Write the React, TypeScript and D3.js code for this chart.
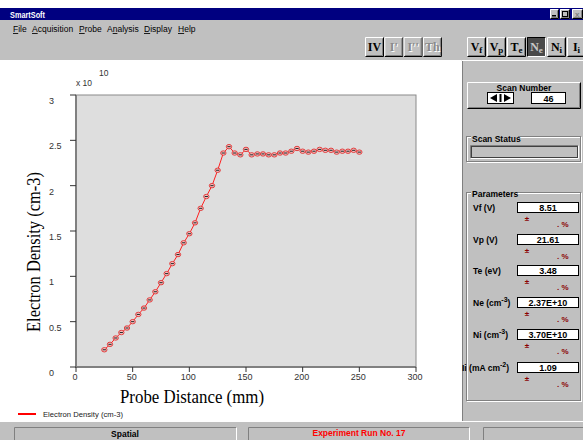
import React from 'react';
import * as d3 from 'd3';

// ---- data ----
const distanceMm = [25, 30, 35, 40, 45, 50, 55, 60, 65, 70, 75, 80, 85, 90, 95, 100, 105, 110, 115, 120, 125, 130, 135, 140, 145, 150, 155, 160, 165, 170, 175, 180, 185, 190, 195, 200, 205, 210, 215, 220, 225, 230, 235, 240, 245, 250];
const densityE10 = [0.19, 0.25, 0.32, 0.38, 0.43, 0.50, 0.58, 0.65, 0.74, 0.83, 0.93, 1.03, 1.14, 1.24, 1.37, 1.47, 1.59, 1.75, 1.88, 2.00, 2.17, 2.36, 2.43, 2.36, 2.34, 2.40, 2.34, 2.35, 2.35, 2.34, 2.34, 2.36, 2.36, 2.38, 2.41, 2.38, 2.37, 2.38, 2.40, 2.39, 2.39, 2.37, 2.38, 2.38, 2.39, 2.37];
const yTicks = [0, 0.5, 1, 1.5, 2, 2.5, 3];
const xTicks = [0, 50, 100, 150, 200, 250, 300];
const menuItems = ['File', 'Acquisition', 'Probe', 'Analysis', 'Display', 'Help'];
const menuUnderline = [0, 0, 0, 1, 0, 0];
const menuX = [13, 32, 79, 107, 144, 178];
const paramNames = ['Vf (V)', 'Vp (V)', 'Te (eV)', 'Ne (cm', 'Ni (cm', 'Ii (mA cm'];
const paramSup = ['', '', '', '-3', '-3', '-2'];
const paramValues = ['8.51', '21.61', '3.48', '2.37E+10', '3.70E+10', '1.09'];
const scanNumber = '46';
const leftButtons = [
  { main: 'IV', sub: '', enabled: true },
  { main: "I'", sub: '', enabled: false },
  { main: "I''", sub: '', enabled: false },
  { main: 'Th', sub: '', enabled: false },
];
const rightButtons = [
  { main: 'V', sub: 'f', pressed: false },
  { main: 'V', sub: 'p', pressed: false },
  { main: 'T', sub: 'e', pressed: false },
  { main: 'N', sub: 'e', pressed: true },
  { main: 'N', sub: 'i', pressed: false },
  { main: 'I', sub: 'i', pressed: false },
];

const UI = '"Liberation Sans", Arial, sans-serif';
const SERIF = '"Liberation Serif", "Times New Roman", serif';
const GREY = '#c0c0c0';

const Raised = ({ x, y, w, h, fill = GREY }: any) => (
  <g>
    <rect x={x} y={y} width={w} height={h} fill={fill} />
    <path d={`M${x + 0.5},${y + h - 0.5}V${y + 0.5}H${x + w - 0.5}`} stroke="#ffffff" fill="none" />
    <path d={`M${x + 0.5},${y + h - 0.5}H${x + w - 0.5}V${y + 0.5}`} stroke="#000000" fill="none" />
    <path d={`M${x + 1.5},${y + h - 1.5}H${x + w - 1.5}V${y + 1.5}`} stroke="#808080" fill="none" />
  </g>
);

const Sunken = ({ x, y, w, h, fill = GREY }: any) => (
  <g>
    <rect x={x} y={y} width={w} height={h} fill={fill} />
    <path d={`M${x + 0.5},${y + h - 0.5}V${y + 0.5}H${x + w - 0.5}`} stroke="#808080" fill="none" />
    <path d={`M${x + 0.5},${y + h - 0.5}H${x + w - 0.5}V${y + 0.5}`} stroke="#ffffff" fill="none" />
  </g>
);

const Etched = ({ x, y, w, h }: any) => (
  <g fill="none">
    <rect x={x + 1.5} y={y + 1.5} width={w - 1} height={h - 1} stroke="#ffffff" />
    <rect x={x + 0.5} y={y + 0.5} width={w - 1} height={h - 1} stroke="#808080" />
  </g>
);

const Field = ({ x, y, w, h, text }: any) => (
  <g>
    <rect x={x + 0.5} y={y + 0.5} width={w - 1} height={h - 1} fill="#ffffff" stroke="#000000" />
    <text x={x + w / 2} y={y + h - 2.5} textAnchor="middle" fontFamily={UI} fontWeight="bold" fontSize={9} fill="#000">{text}</text>
  </g>
);

export default function App() {
  const W = 583, H = 440;
  const plot = { left: 76, right: 416, top: 95, bottom: 367 };
  const x = d3.scaleLinear().domain([0, 300]).range([plot.left, plot.right]);
  const y = d3.scaleLinear().domain([0, 3]).range([plot.bottom, plot.top]);
  const pts = distanceMm.map((d, i) => [x(d), y(densityE10[i])] as [number, number]);
  const line = d3.line()(pts) || '';

  const rowTop = [202, 234, 265, 297, 329, 362];

  return (
    <svg width={W} height={H} viewBox={`0 0 ${W} ${H}`} style={{ position: 'absolute', left: 0, top: 0, display: 'block' }}>
      <rect x={0} y={0} width={W} height={H} fill="#ffffff" />
      {/* title bar */}
      <rect x={0} y={8} width={W} height={12} fill="#000080" />
      <text x={10} y={18} fontFamily={UI} fontWeight="bold" fontSize={9} fill="#ffffff" textLength={35} lengthAdjust="spacingAndGlyphs">SmartSoft</text>
      <Raised x={550} y={9} w={9} h={10} />
      <Raised x={560} y={9} w={10} h={10} />
      <Raised x={572} y={9} w={11} h={10} />
      <rect x={552} y={15} width={4} height={1.5} fill="#000" />
      <rect x={562.5} y={11.5} width={5} height={5} fill="none" stroke="#000" strokeWidth={1} />
      <text x={575} y={17} fontFamily={UI} fontSize={8} fontWeight="bold" fill="#808080">x</text>

      {/* menu + toolbar */}
      <rect x={0} y={20} width={W} height={40} fill={GREY} />
      {menuItems.map((m, i) => (
        <text key={m} x={menuX[i]} y={32} fontFamily={UI} fontSize={8.5} fill="#000">
          {m.split('').map((ch, j) => (
            <tspan key={j} textDecoration={j === menuUnderline[i] ? 'underline' : undefined}>{ch}</tspan>
          ))}
        </text>
      ))}
      {leftButtons.map((b, i) => {
        const bx = 365 + i * 19.3;
        return (
          <g key={'l' + i}>
            <Raised x={bx} y={37} w={19} h={20} />
            {!b.enabled && (
              <text x={bx + 10.5} y={52} textAnchor="middle" fontFamily={SERIF} fontWeight="bold" fontSize={12} fill="#ffffff">{b.main}</text>
            )}
            <text x={bx + 9.5} y={51} textAnchor="middle" fontFamily={SERIF} fontWeight="bold" fontSize={12} fill={b.enabled ? '#000' : '#8a8a8a'}>{b.main}</text>
          </g>
        );
      })}
      {rightButtons.map((b, i) => {
        const bx = 467 + i * 20;
        return (
          <g key={'r' + i}>
            {b.pressed ? (
              <g>
                <rect x={bx} y={37} width={19} height={20} fill="#4a4a4a" />
                <path d={`M${bx + 0.5},${57 - 0.5}V${37.5}H${bx + 18.5}`} stroke="#000" fill="none" />
                <path d={`M${bx + 0.5},${56.5}H${bx + 18.5}V${37.5}`} stroke="#ffffff" fill="none" />
              </g>
            ) : (
              <Raised x={bx} y={37} w={19} h={20} />
            )}
            <text x={bx + 9.5} y={51} textAnchor="middle" fontFamily={SERIF} fontWeight="bold" fontSize={12} fill={b.pressed ? '#c8c8c8' : '#000'}>
              {b.main}
              <tspan fontSize={9} dy={2}>{b.sub}</tspan>
            </text>
          </g>
        );
      })}

      {/* chart area */}
      <rect x={0} y={60} width={461} height={361} fill="#ffffff" />
      <rect x={plot.left} y={plot.top} width={plot.right - plot.left} height={plot.bottom - plot.top} fill="#dedede" stroke="#8a8a8a" strokeWidth={1} />
      <line x1={plot.left} x2={plot.left} y1={plot.top} y2={plot.bottom + 1} stroke="#808080" strokeWidth={2} />
      <line x1={plot.left - 1} x2={plot.right} y1={plot.bottom} y2={plot.bottom} stroke="#808080" strokeWidth={2} />
      {yTicks.map(t => (
        <g key={'y' + t}>
          <line x1={70} x2={plot.left} y1={y(t)} y2={y(t)} stroke="#333" strokeWidth={1} />
          <text x={49} y={y(t) + 9} fontFamily={UI} fontSize={9} fill="#333">{t}</text>
        </g>
      ))}
      {xTicks.map(t => (
        <g key={'x' + t}>
          <line x1={x(t)} x2={x(t)} y1={plot.bottom} y2={plot.bottom + 5} stroke="#333" strokeWidth={1} />
          <text x={x(t) - 1} y={380} textAnchor="middle" fontFamily={UI} fontSize={9} fill="#333">{t}</text>
        </g>
      ))}
      <text x={76} y={86} fontFamily={UI} fontSize={8.5} fill="#333">x 10</text>
      <text x={99} y={76} fontFamily={UI} fontSize={8.5} fill="#333">10</text>
      <text transform="translate(40,252) rotate(-90)" textAnchor="middle" fontFamily={SERIF} fontSize={18} fill="#000" textLength={160} lengthAdjust="spacingAndGlyphs">Electron Density (cm-3)</text>
      <text x={192} y={403} textAnchor="middle" fontFamily={SERIF} fontSize={18} fill="#000" textLength={144} lengthAdjust="spacingAndGlyphs">Probe Distance (mm)</text>

      <path d={line} fill="none" stroke="#ff2020" strokeWidth={1} />
      {pts.map(([px, py], i) => (
        <g key={'p' + i}>
          <ellipse cx={px} cy={py} rx={2.7} ry={2.2} fill="#f2c0c0" stroke="#e03030" strokeWidth={0.9} />
          <line x1={px - 1.6} x2={px + 1.6} y1={py} y2={py} stroke="#222" strokeWidth={1} />
        </g>
      ))}

      {/* legend */}
      <line x1={18} x2={36} y1={414} y2={414} stroke="#ff0000" strokeWidth={2} />
      <text x={43} y={417} fontFamily={UI} fontSize={8} fill="#222" textLength={80} lengthAdjust="spacingAndGlyphs">Electron Density (cm-3)</text>

      {/* right panel */}
      <rect x={461} y={58} width={122} height={363} fill={GREY} />
      <path d="M461.5,421V60.5H583" stroke="#ffffff" fill="none" />
      <path d="M462.5,421V61" stroke="#808080" fill="none" />
      <Raised x={467} y={82} w={114} h={27} />
      <text x={524} y={90.5} textAnchor="middle" fontFamily={UI} fontWeight="bold" fontSize={8.5} fill="#000">Scan Number</text>
      <rect x={487.5} y={92.5} width={26} height={11} fill="#ffffff" stroke="#000" />
      <path d="M490,98L497,94V102Z M511,98L504,94V102Z" fill="#000" />
      <rect x={499.5} y={94} width={2} height={8} fill="#000" />
      <Field x={531} y={92} w={35} h={12} text={scanNumber} />

      <Etched x={466} y={136} w={115} h={26} />
      <rect x={471} y={134} width={47} height={9} fill={GREY} />
      <text x={472} y={142} fontFamily={UI} fontWeight="bold" fontSize={8.5} fill="#000">Scan Status</text>
      <Sunken x={470} y={145} w={109} h={14} />
      <rect x={471.5} y={146.5} width={106} height={11} fill="none" stroke="#404040" />

      <Etched x={466} y={192} w={115} h={209} />
      <rect x={471} y={189} width={45} height={9} fill={GREY} />
      <text x={472} y={197} fontFamily={UI} fontWeight="bold" fontSize={8.5} fill="#000">Parameters</text>
      {paramNames.map((n, i) => {
        const top = rowTop[i];
        return (
          <g key={'pr' + i}>
            <text x={i === 5 ? 462 : 473} y={top + 8.5} fontFamily={UI} fontWeight="bold" fontSize={8.5} fill="#000">
              {n}
              {paramSup[i] && <tspan fontSize={7} dy={-4}>{paramSup[i]}</tspan>}
              {paramSup[i] && <tspan dy={4}>)</tspan>}
            </text>
            <Field x={517} y={top} w={62} h={11} text={paramValues[i]} />
            <text x={527} y={top + 19} textAnchor="middle" fontFamily={UI} fontWeight="bold" fontSize={8} fill="#8b0000">±</text>
            <text x={557} y={top + 25} fontFamily={UI} fontWeight="bold" fontSize={8} fill="#8b0000">. %</text>
          </g>
        );
      })}

      {/* status bar */}
      <rect x={0} y={421} width={W} height={19} fill={GREY} />
      <line x1={0} x2={W} y1={421.5} y2={421.5} stroke="#ffffff" />
      <Sunken x={14} y={427} w={223} h={14} />
      <text x={125} y={437} textAnchor="middle" fontFamily={UI} fontWeight="bold" fontSize={8.5} fill="#000">Spatial</text>
      <Sunken x={248} y={427} w={222} h={14} />
      <text x={359} y={436} textAnchor="middle" fontFamily={UI} fontWeight="bold" fontSize={8.5} fill="#ff0000">Experiment Run No. 17</text>
      <Sunken x={483} y={427} w={101} h={14} />
    </svg>
  );
}
